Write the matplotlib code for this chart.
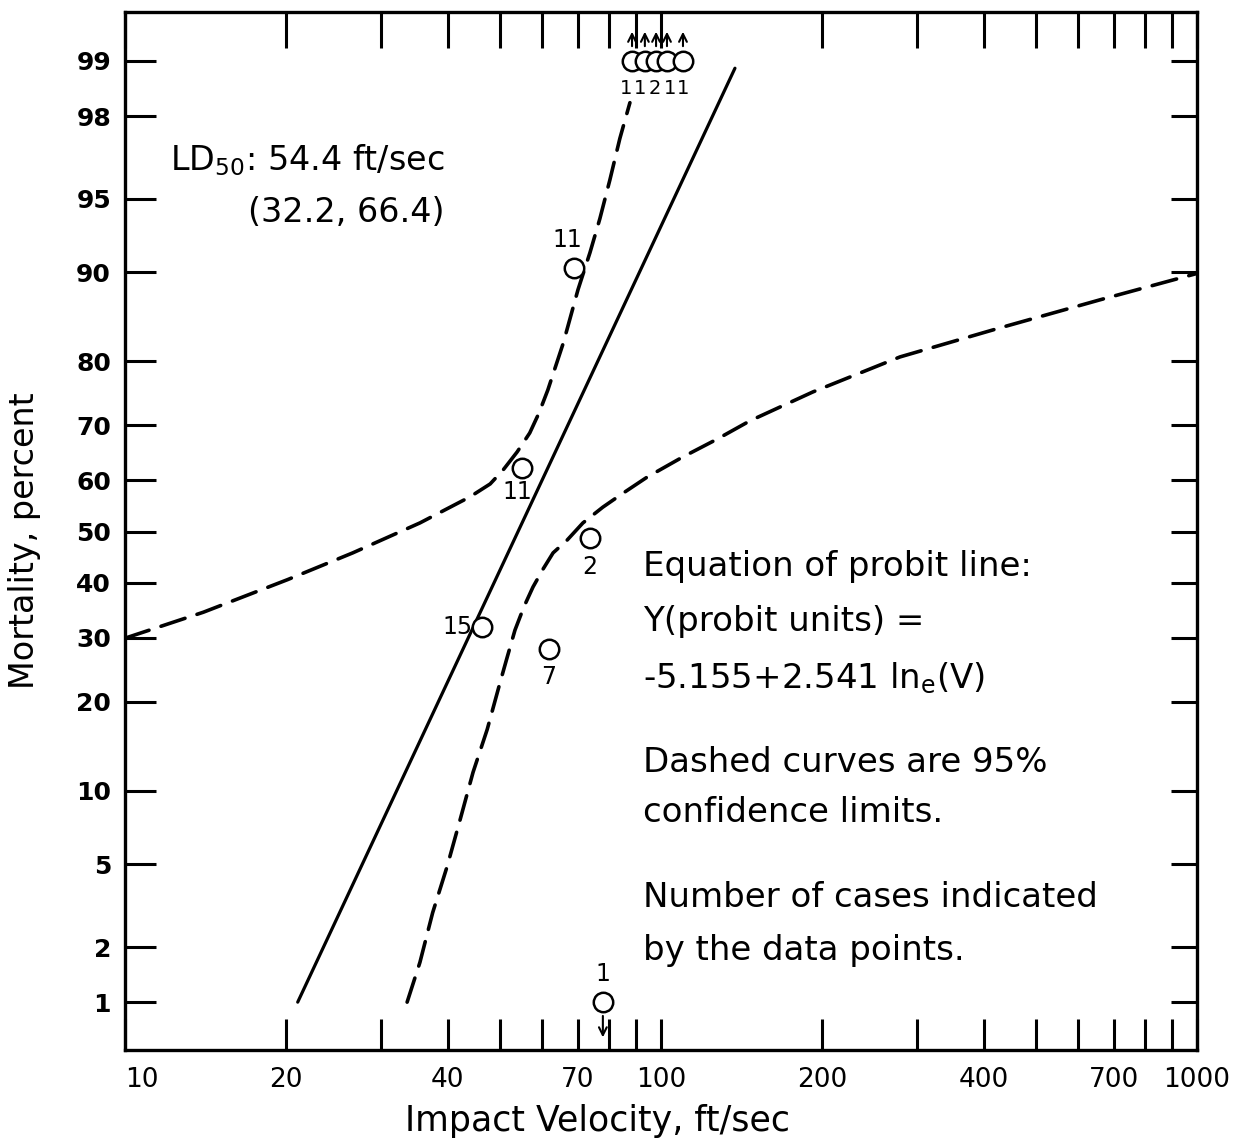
import matplotlib
matplotlib.use('Agg')
import matplotlib.pyplot as plt
import matplotlib.transforms as mtransforms
import numpy as np
from statistics import NormalDist

# probit line (solid)
line_v = [21.0, 137.4]
line_pct = [1.0, 98.9]

# upper 95% confidence limit (dashed, left curve)
upper_v = [10.0, 14.0, 20.1, 26.6, 35.5, 44.0, 48.0, 50.7, 53.9, 56.9, 59.2, 61.5, 65.7,
           70.0, 73.7, 76.9, 80.3, 83.8, 87.5]
upper_pct = [29.9, 34.5, 40.6, 45.8, 51.7, 56.8, 59.3, 61.9, 65.3, 68.7, 72.1, 75.8, 82.4,
             88.4, 91.6, 93.9, 95.9, 97.4, 98.3]

# lower 95% confidence limit (dashed, right curve)
lower_v = [33.6, 35.5, 37.5, 39.9, 42.2, 44.6, 47.4, 50.1, 51.6, 53.4, 55.5, 57.7, 60.3, 62.9,
           66.8, 71.5, 77.9, 84.9, 94.2, 109.9, 127.2, 146.6, 192.1, 279.2, 429.0, 659.2, 1000.0]
lower_pct = [1.0, 1.66, 2.98, 4.89, 7.73, 11.7, 16.4, 22.8, 26.6, 31.3, 35.5, 39.2, 42.7, 45.8,
             48.3, 51.7, 54.8, 57.5, 60.6, 64.4, 67.6, 70.8, 75.5, 80.6, 84.3, 87.4, 89.9]

# data points and number of cases
pt_v = [68.8, 55.0, 46.4, 73.7, 61.8, 77.9, 88.3, 93.3, 97.9, 102.6, 109.9]
pt_pct = [90.4, 62.4, 31.9, 48.8, 28.0, 1.0, 99.0, 99.0, 99.0, 99.0, 99.0]
pt_n = ['11', '11', '15', '2', '7', '1', '1', '1', '2', '1', '1']

y_ticks = [1, 2, 5, 10, 20, 30, 40, 50, 60, 70, 80, 90, 95, 98, 99]
x_ticks = [10, 20, 40, 70, 100, 200, 400, 700, 1000]
x_minor = [30, 50, 60, 80, 90, 300, 500, 600, 800, 900]

plt.rcParams['font.family'] = ['DejaVu Sans']
plt.rcParams['mathtext.default'] = 'regular'

nd = NormalDist()
_ppf = np.vectorize(nd.inv_cdf, otypes=[float])
_cdf = np.vectorize(nd.cdf, otypes=[float])


def probit(p):
    p = np.clip(np.asarray(p, dtype=float) / 100.0, 1e-7, 1 - 1e-7)
    return _ppf(p)


def unprobit(z):
    return _cdf(np.asarray(z, dtype=float)) * 100.0


fig = plt.figure(figsize=(12.43, 11.46), dpi=100)
ax = fig.add_axes([125 / 1243, 1 - 1050 / 1146, 1072 / 1243, 1038 / 1146])
ax.set_xscale('log')
ax.set_yscale('function', functions=(probit, unprobit))
ax.set_xlim(10, 1000)
ax.set_ylim(0.519, 99.489)

ax.plot(line_v, line_pct, color='black', lw=2.3, solid_capstyle='round')
ax.plot(upper_v, upper_pct, color='black', lw=2.6, dashes=(7, 3.5), dash_capstyle='round')
ax.plot(lower_v, lower_pct, color='black', lw=2.6, dashes=(7, 3.5), dash_capstyle='round')
ax.plot(pt_v, pt_pct, 'o', ms=14, mfc='white', mec='black', mew=1.8, zorder=5)

# case counts next to the points (offsets in pixels)
offsets = [(-7, 28), (-5, -24), (-25, 0), (0, -29), (0, -28), (0, 28),
           (-6, -28), (-5, -28), (-1, -28), (3, -28), (0, -28)]
sizes = [17, 17, 17, 17, 17, 17, 14, 14, 14, 14, 14]
for v, p, n, (dx, dy), fs in zip(pt_v, pt_pct, pt_n, offsets, sizes):
    ax.annotate(n, (v, p), xytext=(dx * 0.72, dy * 0.72), textcoords='offset points',
                ha='center', va='center', fontsize=fs)

# arrows: 100% at the top, 0% at the bottom
for v, p in zip(pt_v[6:], pt_pct[6:]):
    tip = mtransforms.offset_copy(ax.transData, fig=fig, x=0, y=32, units='dots')
    tail = mtransforms.offset_copy(ax.transData, fig=fig, x=0, y=12, units='dots')
    ax.annotate('', xy=(v, p), xycoords=tip, xytext=(v, p), textcoords=tail,
                arrowprops=dict(arrowstyle='->', lw=1.5, color='black', mutation_scale=14))
tip = mtransforms.offset_copy(ax.transData, fig=fig, x=0, y=-38, units='dots')
tail = mtransforms.offset_copy(ax.transData, fig=fig, x=0, y=-11, units='dots')
ax.annotate('', xy=(pt_v[5], pt_pct[5]), xycoords=tip, xytext=(pt_v[5], pt_pct[5]), textcoords=tail,
            arrowprops=dict(arrowstyle='->', lw=1.5, color='black', mutation_scale=14))

# ticks
ax.set_yticks(y_ticks)
ax.set_yticklabels([str(t) for t in y_ticks], fontsize=18, fontweight='bold')
ax.yaxis.set_minor_locator(plt.NullLocator())
ax.set_xticks(x_ticks)
ax.set_xticklabels([str(t) for t in x_ticks], fontsize=19)
ax.set_xticks(x_minor, minor=True)
ax.xaxis.set_minor_formatter(plt.NullFormatter())
ax.get_xticklabels()[0].set_ha('left')
ax.tick_params(axis='x', which='both', direction='in', top=True, length=22, width=2.2, pad=12)
ax.tick_params(axis='y', which='both', direction='in', right=True, length=22, width=2.2, pad=10)
# top ticks are a bit longer than the bottom ones
for tk in ax.xaxis.get_major_ticks() + ax.xaxis.get_minor_ticks():
    tk.tick2line.set_markersize(26)
for tk in ax.yaxis.get_major_ticks():
    tk.tick2line.set_markersize(19)
for s in ax.spines.values():
    s.set_linewidth(2.4)

ax.set_xlabel('Impact Velocity, ft/sec', fontsize=25)
ax.xaxis.set_label_coords(0.441, -0.052)
ax.set_ylabel('Mortality, percent', fontsize=24)
ax.yaxis.set_label_coords(-0.078, 0.491)

ax.text(0.042, 0.857, 'LD$_{50}$: 54.4 ft/sec', transform=ax.transAxes, fontsize=24, va='center')
ax.text(0.115, 0.807, '(32.2, 66.4)', transform=ax.transAxes, fontsize=24, va='center')

notes = ['Equation of probit line:', 'Y(probit units) =', '-5.155+2.541 ln$_e$(V)',
         'Dashed curves are 95%', 'confidence limits.',
         'Number of cases indicated', 'by the data points.']
note_y = [0.466, 0.413, 0.358, 0.277, 0.229, 0.147, 0.096]
for t, y in zip(notes, note_y):
    ax.text(0.483, y, t, transform=ax.transAxes, fontsize=24.5, va='center')

fig.savefig('out.png', dpi=100)
